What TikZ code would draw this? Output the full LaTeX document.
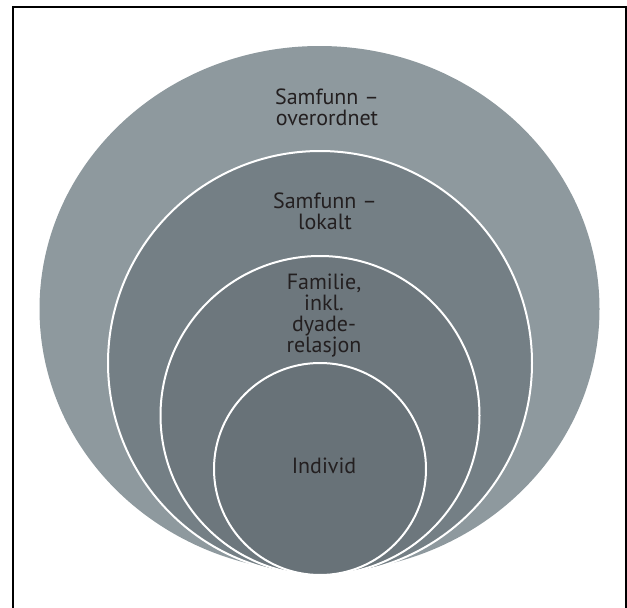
\documentclass[tikz,border=0pt]{standalone}
\usepackage{fontspec}
\setmainfont{PT Sans}

\definecolor{ringouter}{RGB}{142,153,158}
\definecolor{ringlocal}{RGB}{116,127,133}
\definecolor{ringfamily}{RGB}{109,119,125}
\definecolor{ringself}{RGB}{104,114,120}
\definecolor{labeltext}{RGB}{35,31,32}

\tikzset{
  ring/.style={draw=white, line width=2pt},
  ringlabel/.style={align=center, anchor=base, inner sep=0pt, text=labeltext,
    font=\fontsize{22}{21}\selectfont}
}

\begin{document}
\begin{tikzpicture}[x=1pt, y=-1pt]

  \useasboundingbox (0,0) rectangle (627,608);
  % frame, cut off at the bottom
  \draw [line width=1.7pt] (13,640) -- (13,7) -- (626,7) -- (626,640);

  % rings, from outside in
  \fill [ringouter] (319.5,309) ellipse [x radius=280pt, y radius=263pt];
  \filldraw [ring, fill=ringlocal] (320,363) circle [radius=212pt];
  \filldraw [ring, fill=ringfamily] (320,415.5) circle [radius=159.5pt];
  \filldraw [ring, fill=ringself] (320,469) circle [radius=106pt];

  % base anchor sits on the last line
  \node [ringlabel] (overall) at (327,125) {Samfunn --\\overordnet};
  \node [ringlabel] (local) at (325,229) {Samfunn --\\lokalt};
  \node [ringlabel] (family) at (324,352) {Familie,\\inkl.\\dyade-\\relasjon};
  \node [ringlabel] (self) at (324,473) {Individ};

\end{tikzpicture}
\end{document}
